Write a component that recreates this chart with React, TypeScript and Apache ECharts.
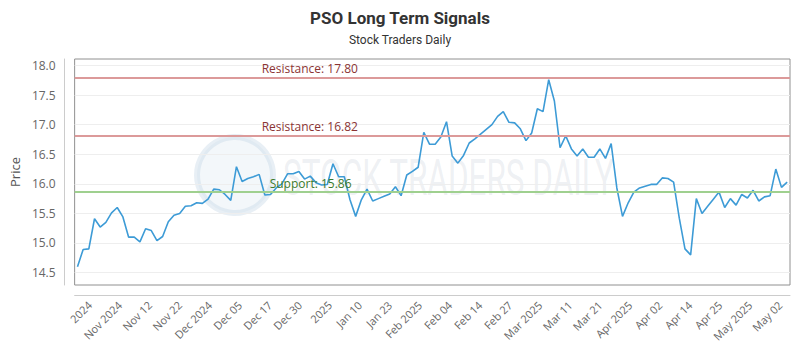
import React, { useEffect, useRef } from "react";
import * as echarts from "echarts";

const prices: number[] = [
  14.6, 14.89, 14.9, 15.41, 15.27, 15.35, 15.51, 15.6, 15.44, 15.1,
  15.1, 15.02, 15.24, 15.21, 15.04, 15.11, 15.36, 15.47, 15.5, 15.62,
  15.63, 15.68, 15.67, 15.74, 15.91, 15.9, 15.82, 15.72, 16.29, 16.04,
  16.09, 16.12, 16.16, 15.81, 15.82, 15.93, 16.0, 16.17, 16.17, 16.21,
  16.08, 16.13, 16.02, 15.98, 15.99, 16.34, 16.12, 16.12, 15.73, 15.45,
  15.73, 15.91, 15.71, 15.75, 15.79, 15.83, 15.95, 15.8,
  16.15, 16.21, 16.28, 16.87, 16.67, 16.67, 16.79, 17.05, 16.47, 16.35,
  16.48, 16.69, 16.76, 16.84, 16.92, 17.0, 17.14, 17.22, 17.04, 17.03,
  16.93, 16.73, 16.86, 17.27, 17.22, 17.76, 17.4, 16.61, 16.81, 16.59,
  16.47, 16.59, 16.45, 16.45, 16.59, 16.43, 16.68, 15.93, 15.45, 15.68,
  15.86, 15.93, 15.96, 15.99, 15.99, 16.1, 16.09, 16.03, 15.42, 14.9,
  14.8, 15.75, 15.5, 15.62, 15.74, 15.86, 15.6, 15.75, 15.64, 15.82,
  15.76, 15.89, 15.71, 15.78, 15.8, 16.25, 15.94, 16.03,
];

const dateLabels: string[] = [
  "2024", "Nov 2024", "Nov 12", "Nov 22", "Dec 2024", "Dec 05", "Dec 17", "Dec 30",
  "2025", "Jan 10", "Jan 23", "Feb 2025", "Feb 04", "Feb 14", "Feb 27", "Mar 2025",
  "Mar 11", "Mar 21", "Apr 2025", "Apr 02", "Apr 14", "Apr 25", "May 2025", "May 02",
];

const yTicks: number[] = [14.5, 15.0, 15.5, 16.0, 16.5, 17.0, 17.5, 18.0];

const resistanceLevels: number[] = [17.8, 16.82];
const supportLevels: number[] = [15.86];

export default function App() {
  const ref = useRef<HTMLDivElement>(null);
  useEffect(() => {
    document.body.style.margin = "0";
    if (!ref.current) return;
    const chart = echarts.init(ref.current, null, { renderer: "svg" });
    const font = "'Open Sans', sans-serif";
    const option: any = {
      animation: false,
      backgroundColor: "#ffffff",
      title: {
        text: "PSO Long Term Signals",
        subtext: "Stock Traders Daily",
        left: "center",
        top: 4,
        itemGap: 8,
        textStyle: { fontFamily: "Roboto, sans-serif", fontSize: 17, fontWeight: "bold", color: "#333333" },
        subtextStyle: { fontFamily: "Roboto, sans-serif", fontSize: 12, color: "#333333" },
      },
      graphic: [
        {
          type: "circle",
          shape: { cx: 235, cy: 175, r: 38 },
          style: { fill: "rgba(190,210,225,0.18)", stroke: "rgba(190,210,225,0.35)", lineWidth: 6 },
          silent: true,
          z: 0,
        },
        {
          type: "text",
          x: 283,
          y: 153,
          scaleX: 0.63,
          style: {
            text: "STOCK TRADERS DAILY",
            fontFamily: "Roboto, sans-serif",
            fontSize: 50,
            fill: "rgba(185,195,205,0.24)",
          },
          silent: true,
          z: 0,
        },
      ],
      grid: {
        left: 70,
        right: 10,
        top: 59,
        bottom: 65,
        show: true,
        borderColor: "#909090",
        borderWidth: 1,
        backgroundColor: "transparent",
      },
      xAxis: [
        {
          type: "category",
          data: prices.map((_, i) => i),
          boundaryGap: true,
          show: false,
        },
        {
          type: "value",
          position: "bottom",
          min: -0.5,
          max: 23.33,
          offset: 10,
          axisLine: { show: true, onZero: false, lineStyle: { color: "#cccccc", width: 1 } },
          axisTick: { show: false, customValues: dateLabels.map((_, i) => i) },
          splitLine: { show: false },
          axisLabel: {
            customValues: dateLabels.map((_, i) => i),
            formatter: (v: number) => dateLabels[Math.round(v)] ?? "",
            rotate: 45,
            margin: 8,
            fontFamily: font,
            fontSize: 11,
            color: "#666666",
          },
        },
      ],
      yAxis: {
        type: "value",
        min: 14.29,
        max: 18.11,
        offset: 10,
        name: "Price",
        nameLocation: "middle",
        nameGap: 43,
        nameRotate: 90,
        nameTextStyle: { fontFamily: font, fontSize: 13, color: "#555555" },
        axisLine: { show: true, onZero: false, lineStyle: { color: "#cccccc", width: 1 } },
        axisTick: { show: false, customValues: yTicks },
        splitLine: { show: true, lineStyle: { color: "#eeeeee", width: 1 } },
        axisLabel: {
          customValues: yTicks,
          formatter: (v: number) => v.toFixed(1),
          margin: 9,
          fontFamily: font,
          fontSize: 12,
          color: "#666666",
        },
      },
      series: [
        {
          type: "line",
          xAxisIndex: 0,
          data: prices,
          showSymbol: false,
          symbol: "none",
          lineStyle: { color: "#3d9bd6", width: 1.6 },
          z: 3,
          markLine: {
            silent: true,
            symbol: "none",
            animation: false,
            data: [
              ...resistanceLevels.map((v) => ({
                yAxis: v,
                lineStyle: { color: "#dc9a9a", width: 2, type: "solid" },
                label: {
                  show: true,
                  position: "insideStartTop",
                  formatter: "Resistance: " + v.toFixed(2),
                  color: "#8b3434",
                  fontFamily: font,
                  fontSize: 12,
                  padding: [0, 0, 0, 184],
                  distance: 3,
                },
              })),
              ...supportLevels.map((v) => ({
                yAxis: v,
                lineStyle: { color: "#9fd08f", width: 2, type: "solid" },
                label: {
                  show: true,
                  position: "insideStartTop",
                  formatter: "Support: " + v.toFixed(2),
                  color: "#3d7a2b",
                  fontFamily: font,
                  fontSize: 12,
                  padding: [0, 0, 0, 192],
                  distance: 3,
                },
              })),
            ],
          },
        },
      ],
    };
    chart.setOption(option);
    return () => chart.dispose();
  }, []);
  return <div ref={ref} style={{ width: 800, height: 350 }} />;
}
